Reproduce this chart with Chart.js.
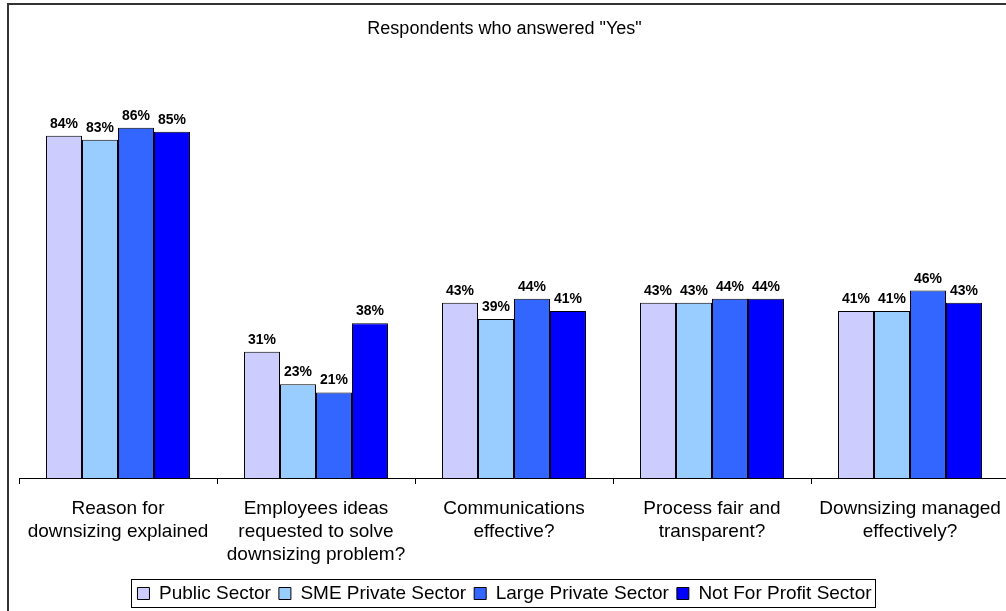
<!DOCTYPE html>
<html>
<head>
<meta charset="utf-8">
<script src="https://cdn.jsdelivr.net/npm/chart.js@4/dist/chart.umd.min.js"></script>
<style>
  html, body { margin: 0; padding: 0; background: #fff; overflow: hidden; width: 1006px; height: 611px; }
  #frame { position: absolute; left: 7px; top: 3px; width: 1100px; height: 700px; border-left: 2px solid #333; border-top: 2px solid #333; }
  #wrap { position: absolute; left: 0; top: 0; width: 1020px; height: 611px; }
</style>
</head>
<body>
<div id="frame"></div>
<div id="wrap"><canvas id="c" width="1020" height="611"></canvas></div>
<script>
const categories = [
  ["Reason for", "downsizing explained"],
  ["Employees ideas", "requested to solve", "downsizing problem?"],
  ["Communications", "effective?"],
  ["Process fair and", "transparent?"],
  ["Downsizing managed", "effectively?"]
];
const seriesNames = ["Public Sector", "SME Private Sector", "Large Private Sector", "Not For Profit Sector"];
const publicSector = [84, 31, 43, 43, 41];
const smePrivate = [83, 23, 39, 43, 41];
const largePrivate = [86, 21, 44, 44, 46];
const notForProfit = [85, 38, 41, 44, 43];
const seriesColors = ["#CCCCFF", "#99CCFF", "#3366FF", "#0000FF"];

const FONT = "'Liberation Sans', Arial, Helvetica, sans-serif";

const valueLabels = {
  id: 'valueLabels',
  afterDatasetsDraw(chart) {
    const ctx = chart.ctx;
    ctx.save();
    ctx.font = "bold 14px " + FONT;
    ctx.fillStyle = "#000";
    ctx.textAlign = "center";
    ctx.textBaseline = "alphabetic";
    chart.data.datasets.forEach((ds, i) => {
      const meta = chart.getDatasetMeta(i);
      meta.data.forEach((bar, j) => {
        ctx.fillText(ds.data[j] + "%", bar.x, bar.y - 8);
      });
    });
    ctx.restore();
  }
};

const legendBorder = {
  id: 'legendBorder',
  afterDraw(chart) {
    const lg = chart.legend;
    if (!lg || !lg.legendHitBoxes || !lg.legendHitBoxes.length) return;
    let l = Infinity, r = -Infinity, t = Infinity, b = -Infinity;
    lg.legendHitBoxes.forEach(h => {
      l = Math.min(l, h.left); r = Math.max(r, h.left + h.width);
      t = Math.min(t, h.top); b = Math.max(b, h.top + h.height);
    });
    const ctx = chart.ctx;
    ctx.save();
    ctx.strokeStyle = "#000";
    ctx.lineWidth = 1;
    ctx.strokeRect(Math.round(l - 6) + 0.5, Math.round(t - 5) + 0.5, Math.round(r - l + 10), Math.round(b - t + 9));
    ctx.restore();
  }
};

const datasets = [publicSector, smePrivate, largePrivate, notForProfit].map((d, i) => ({
  label: seriesNames[i],
  data: d,
  backgroundColor: seriesColors[i],
  borderColor: "#000",
  borderWidth: 1,
  borderSkipped: 'bottom',
  categoryPercentage: 0.727,
  barPercentage: 1.0
}));

new Chart(document.getElementById('c'), {
  type: 'bar',
  data: { labels: categories, datasets: datasets },
  options: {
    responsive: false,
    animation: false,
    devicePixelRatio: 1,
    layout: { padding: { left: 0, right: 11, top: 0, bottom: -2 } },
    plugins: {
      title: {
        display: true,
        text: 'Respondents who answered "Yes"',
        color: "#000",
        font: { family: FONT, size: 18, weight: 'normal', lineHeight: 1.2 },
        padding: { top: 18, bottom: 31 }
      },
      legend: {
        display: true,
        position: 'bottom',
        labels: {
          color: "#000",
          font: { family: FONT, size: 19, lineHeight: 1.2 },
          boxWidth: 12,
          boxHeight: 12,
          padding: 8
        }
      },
      tooltip: { enabled: false }
    },
    scales: {
      x: {
        grid: { display: true, drawOnChartArea: false, drawTicks: true, tickLength: 6, color: "#000", lineWidth: 1 },
        border: { display: true, color: "#000", width: 1 },
        ticks: {
          color: "#000",
          font: { family: FONT, size: 19, lineHeight: 1.21 },
          padding: 13,
          maxRotation: 0,
          autoSkip: false
        },
        afterFit(s) { s.height = 98; }
      },
      y: {
        display: true,
        min: 0,
        max: 100,
        grid: { display: false },
        border: { display: false },
        ticks: { display: false },
        afterFit(s) { s.width = 19; }
      }
    }
  },
  plugins: [valueLabels, legendBorder]
});
</script>
</body>
</html>
